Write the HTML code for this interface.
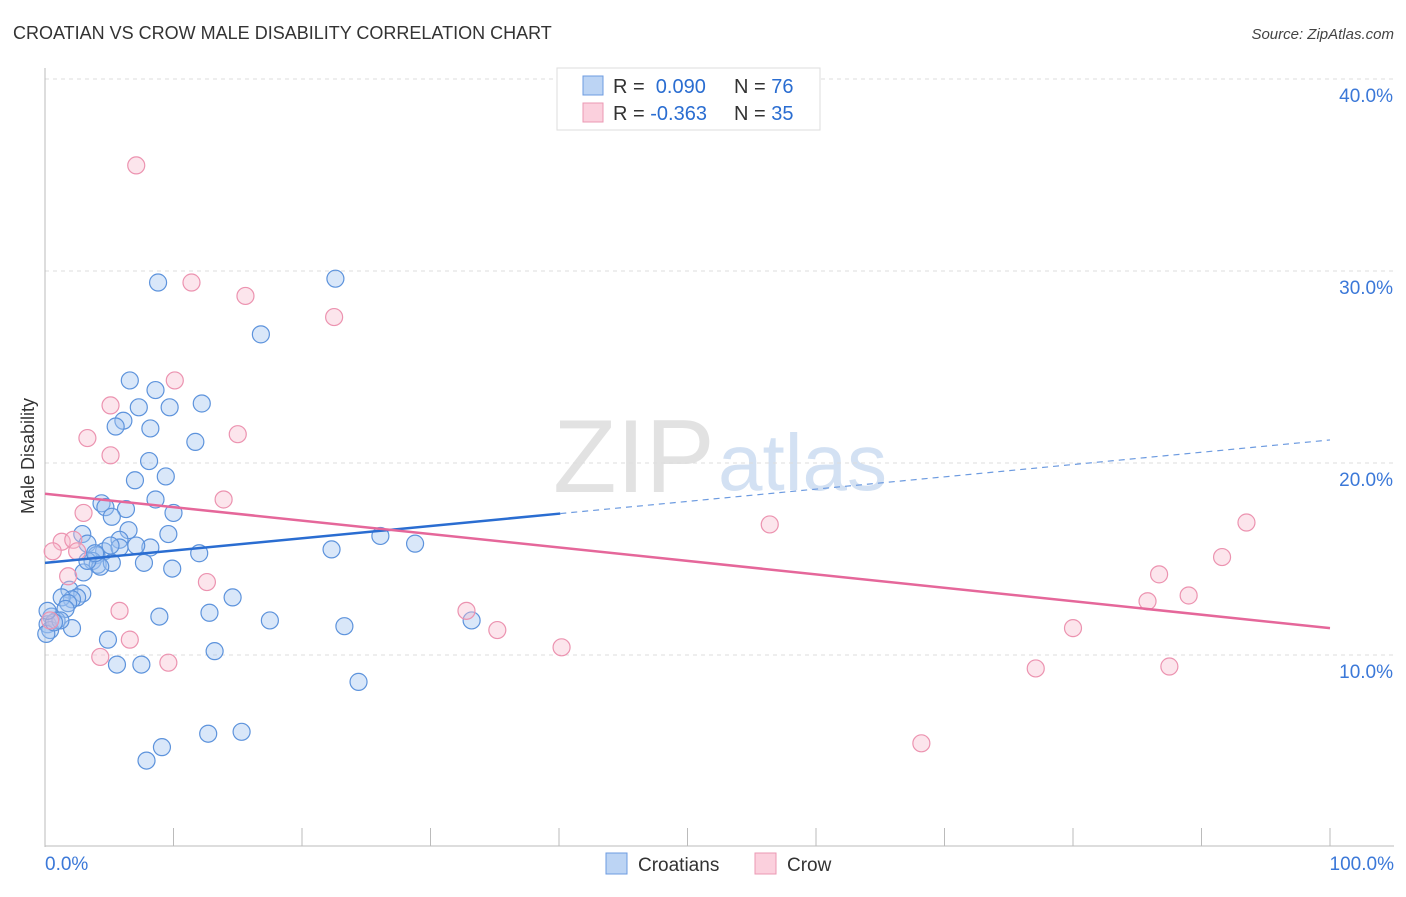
<!DOCTYPE html>
<html><head><meta charset="utf-8"><style>
body{margin:0;background:#fff;font-family:"Liberation Sans",sans-serif;}
svg text{font-family:"Liberation Sans",sans-serif;}
</style></head><body>
<svg id="chart" width="1406" height="892" xmlns="http://www.w3.org/2000/svg">
<text x="13" y="39" font-size="18" fill="#333">CROATIAN VS CROW MALE DISABILITY CORRELATION CHART</text>
<text x="1394" y="39" font-size="15" fill="#444" text-anchor="end" font-style="italic">Source: ZipAtlas.com</text>
<g>
<text x="553" y="492" font-size="104" fill="#e2e2e2" font-family="Liberation Serif, serif">ZIP</text>
<text x="718" y="490" font-size="80" fill="#d3e1f3">atlas</text>
</g>
<g id="grid"></g>
<g id="axes"></g>
<g id="points"></g>
<g id="trends"></g>
<text transform="translate(34,456) rotate(-90)" font-size="18" fill="#333" text-anchor="middle">Male Disability</text>
<g>
<rect x="557" y="68" width="263" height="62" fill="#fff" stroke="#ddd"/>
<rect x="583" y="76" width="20" height="19" fill="#bcd4f4" stroke="#6d9be0"/>
<rect x="583" y="103" width="20" height="19" fill="#fbd0dd" stroke="#eb98b3"/>
<text x="613" y="93" font-size="20" fill="#333">R = <tspan fill="#2a6dd1">&#160;0.090</tspan><tspan x="734" fill="#333">N = </tspan><tspan fill="#2a6dd1">76</tspan></text>
<text x="613" y="120" font-size="20" fill="#333">R = <tspan fill="#2a6dd1">-0.363</tspan><tspan x="734" fill="#333">N = </tspan><tspan fill="#2a6dd1">35</tspan></text>
</g>
<g>
<rect x="606" y="853" width="21" height="21" fill="#bcd4f4" stroke="#6d9be0"/>
<text x="638" y="871" font-size="19" fill="#333">Croatians</text>
<rect x="755" y="853" width="21" height="21" fill="#fbd0dd" stroke="#eb98b3"/>
<text x="787" y="871" font-size="19" fill="#333">Crow</text>
</g>
</svg>
<script>
const blueX=[8.8,22.6,16.8,6.6,8.6,7.3,9.7,12.2,6.1,5.5,8.2,11.7,8.1,9.4,7.0,8.6,4.4,4.7,6.3,5.2,10.0,6.5,2.9,5.8,3.3,8.2,7.1,9.6,26.1,22.3,28.8,12.0,4.6,4.0,3.7,5.8,4.1,5.2,7.7,3.0,9.9,4.3,1.9,2.9,2.5,2.1,1.3,1.8,1.6,14.6,12.8,8.9,17.5,33.2,23.3,0.5,0.9,0.2,0.4,0.1,2.1,4.9,13.2,5.6,7.5,24.4,12.7,15.3,9.1,7.9,1.2,0.7,0.2,3.3,3.9,5.1];
const blueY=[29.4,29.6,26.7,24.3,23.8,22.9,22.9,23.1,22.2,21.9,21.8,21.1,20.1,19.3,19.1,18.1,17.9,17.7,17.6,17.2,17.4,16.5,16.3,16.0,15.8,15.6,15.7,16.3,16.2,15.5,15.8,15.3,15.4,15.2,14.9,15.6,14.7,14.8,14.8,14.3,14.5,14.6,13.4,13.2,13.0,12.9,13.0,12.7,12.4,13.0,12.2,12.0,11.8,11.8,11.5,12.0,11.8,11.6,11.3,11.1,11.4,10.8,10.2,9.5,9.5,8.6,5.9,6.0,5.2,4.5,11.8,11.7,12.3,14.9,15.3,15.7];
const pinkX=[7.1,11.4,15.6,22.5,10.1,5.1,15.0,3.3,5.1,13.9,3.0,1.3,2.2,0.6,2.5,1.8,12.6,5.8,6.6,4.3,9.6,32.8,35.2,40.2,56.4,93.5,91.6,86.7,85.8,89.0,80.0,77.1,87.5,68.2,0.4];
const pinkY=[35.5,29.4,28.7,27.6,24.3,23.0,21.5,21.3,20.4,18.1,17.4,15.9,16.0,15.4,15.4,14.1,13.8,12.3,10.8,9.9,9.6,12.3,11.3,10.4,16.8,16.9,15.1,14.2,12.8,13.1,11.4,9.3,9.4,5.4,11.8];
const blueTrend=[14.8,21.2]; const blueSolidEnd=40.1;
const pinkTrend=[18.4,11.4];
const yTicks=[10,20,30,40];
const yTickLabels=["10.0%","20.0%","30.0%","40.0%"];
const xTicks=[0,10,20,30,40,50,60,70,80,90,100];

const NS="http://www.w3.org/2000/svg";
const sx=v=>45+v*12.85;
const sy=v=>655-(v-10)*19.2;
function mk(tag,attrs,parent){const e=document.createElementNS(NS,tag);for(const k in attrs)e.setAttribute(k,attrs[k]);parent.appendChild(e);return e;}
const grid=document.getElementById('grid'),axes=document.getElementById('axes'),pts=document.getElementById('points'),tr=document.getElementById('trends');
yTicks.forEach((t,i)=>{
 const l=mk('line',{x1:45,x2:1394,y1:sy(t),y2:sy(t),stroke:'#ddd','stroke-dasharray':'4,4'},grid);
 
 
 const tx=mk('text',{x:1393,y:sy(t)+23,'font-size':19,fill:'#3b78d8','text-anchor':'end'},axes);
 tx.textContent=yTickLabels[i];
 
 
});
const ya=mk('line',{x1:45,x2:45,y1:68,y2:847,stroke:'#bbb'},axes);


const xa=mk('line',{x1:45,x2:1394,y1:846,y2:846,stroke:'#bbb'},axes);


xTicks.forEach(t=>{
 const l=mk('line',{x1:sx(t),x2:sx(t),y1:828,y2:846,stroke:'#bbb'},axes);
 
 
});
const xl0=mk('text',{x:45,y:870,'font-size':19,fill:'#3b78d8'},axes);xl0.textContent='0.0%';


const xl1=mk('text',{x:1394,y:870,'font-size':19,fill:'#3b78d8','text-anchor':'end'},axes);xl1.textContent='100.0%';


blueX.forEach((x,i)=>{
 const c=mk('circle',{cx:sx(x),cy:sy(blueY[i]),r:8.5,fill:'rgba(160,196,240,0.4)',stroke:'#5d93dc','stroke-width':1.2},pts);
 
 
});
pinkX.forEach((x,i)=>{
 const c=mk('circle',{cx:sx(x),cy:sy(pinkY[i]),r:8.5,fill:'rgba(247,190,208,0.4)',stroke:'#ec93b0','stroke-width':1.2},pts);
 
 
});
const by=x=>blueTrend[0]+(blueTrend[1]-blueTrend[0])*x/100;
const b1=mk('line',{x1:sx(0),y1:sy(by(0)),x2:sx(blueSolidEnd),y2:sy(by(blueSolidEnd)),stroke:'#2a6dd1','stroke-width':2.5},tr);


const b2=mk('line',{x1:sx(blueSolidEnd),y1:sy(by(blueSolidEnd)),x2:sx(100),y2:sy(by(100)),stroke:'#6d9be0','stroke-width':1.2,'stroke-dasharray':'6,5'},tr);


const p1=mk('line',{x1:sx(0),y1:sy(pinkTrend[0]),x2:sx(100),y2:sy(pinkTrend[1]),stroke:'#e5679a','stroke-width':2.5},tr);


</script>
</body></html>
